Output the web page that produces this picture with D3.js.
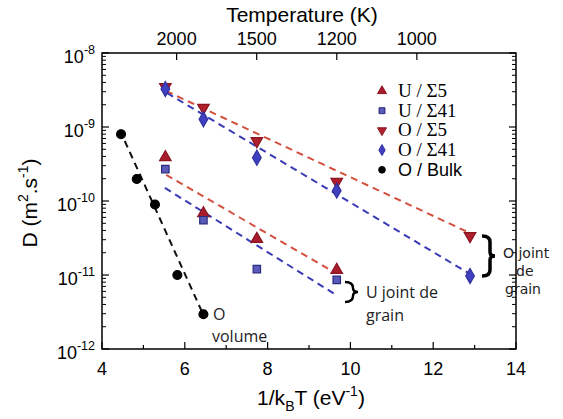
<!DOCTYPE html>
<html><head><meta charset="utf-8">
<script src="https://cdn.jsdelivr.net/npm/d3@7"></script>
<style>body{margin:0;background:#fff}svg{display:block}</style>
</head><body>
<script>
// ---- data ----
const invT = [5.53, 6.45, 7.74, 9.67, 12.89];          // 1/kBT (eV^-1)
const U_S5 = [3.9e-10, 6.8e-11, 3.06e-11, 1.17e-11];
const U_S41 = [2.7e-10, 5.5e-11, 1.2e-11, 8.6e-12];
const O_S5 = [3.47e-9, 1.82e-9, 6.47e-10, 1.82e-10, 3.37e-11];
const O_S41 = [3.26e-9, 1.27e-9, 3.85e-10, 1.38e-10, 9.7e-12];
const bulkX = [4.46, 4.84, 5.28, 5.82, 6.45];
const bulkD = [8.0e-10, 1.98e-10, 8.97e-11, 1.0e-11, 2.95e-12];
// fitted dashed lines: [x, D] endpoints
const fitO_S5 = [[5.55, 3.06e-9], [12.88, 3.7e-11]];
const fitO_S41 = [[5.57, 2.88e-9], [12.93, 1.0e-11]];
const fitU_S5 = [[5.55, 2.25e-10], [9.65, 1.06e-11]];
const fitU_S41 = [[5.52, 1.5e-10], [9.65, 5.4e-12]];
const fitBulk = [[4.43, 9.1e-10], [6.46, 2.8e-12]];
const xTicks = [4, 6, 8, 10, 12, 14];
const xMinor = [5, 7, 9, 11, 13];
const yExps = [-8, -9, -10, -11, -12];
const tempTicks = [2000, 1500, 1200, 1000];
const legendLabels = ["U / Σ5", "U / Σ41", "O / Σ5", "O / Σ41", "O / Bulk"];

const W = 563, H = 419;
const L = 102, R = 516, T = 53, B = 349;
const kB = 8.617e-5;

const svg = d3.select("body").append("svg").attr("width", W).attr("height", H);
const x = d3.scaleLinear().domain([4, 14]).range([L, R]);
const y = d3.scaleLog().domain([1e-12, 1e-8]).range([B, T]);

const REDL = "#d4503e", BLUEL = "#3a3ab4", BLK = "#111";
const sans = "Liberation Sans, Arial, sans-serif";
const serif = "Liberation Serif, Times New Roman, serif";

// frame
svg.append("rect").attr("x", L).attr("y", T).attr("width", R - L).attr("height", B - T)
  .attr("fill", "none").attr("stroke", "#000").attr("stroke-width", 1.5);

// x ticks bottom
const gx = svg.append("g");
xTicks.forEach(v => {
  gx.append("line").attr("x1", x(v)).attr("x2", x(v)).attr("y1", B).attr("y2", B - 7).attr("stroke", "#000").attr("stroke-width", 1.2);
  gx.append("text").attr("x", x(v)).attr("y", B + 26).attr("text-anchor", "middle")
    .attr("font-family", sans).attr("font-size", 18).text(v);
});
xMinor.forEach(v => {
  gx.append("line").attr("x1", x(v)).attr("x2", x(v)).attr("y1", B).attr("y2", B - 4).attr("stroke", "#000").attr("stroke-width", 1.2);
});
// top temperature axis
tempTicks.forEach(t => {
  const xv = x(1 / (kB * t));
  gx.append("line").attr("x1", xv).attr("x2", xv).attr("y1", T).attr("y2", T + 7).attr("stroke", "#000").attr("stroke-width", 1.2);
  gx.append("text").attr("x", xv).attr("y", T - 8).attr("text-anchor", "middle")
    .attr("font-family", sans).attr("font-size", 18).text(t);
});
svg.append("text").attr("x", 302).attr("y", 22).attr("text-anchor", "middle")
  .attr("font-family", sans).attr("font-size", 21).text("Temperature (K)");

// y ticks (left & right)
const gy = svg.append("g");
yExps.forEach(e => {
  const yv = y(Math.pow(10, e));
  gy.append("line").attr("x1", L).attr("x2", L + 7).attr("y1", yv).attr("y2", yv).attr("stroke", "#000").attr("stroke-width", 1.2);
  gy.append("line").attr("x1", R).attr("x2", R - 7).attr("y1", yv).attr("y2", yv).attr("stroke", "#000").attr("stroke-width", 1.2);
  const t = gy.append("text").attr("x", L - 7).attr("y", yv + 10).attr("text-anchor", "end")
    .attr("font-family", sans).attr("font-size", 18);
  t.append("tspan").text("10");
  t.append("tspan").attr("dy", -9).attr("font-size", 12.5).text(e);
  if (e > -12) {
    for (let m = 2; m <= 9; m++) {
      const ym = y(m * Math.pow(10, e - 1));
      gy.append("line").attr("x1", L).attr("x2", L + 4).attr("y1", ym).attr("y2", ym).attr("stroke", "#000").attr("stroke-width", 1);
      gy.append("line").attr("x1", R).attr("x2", R - 4).attr("y1", ym).attr("y2", ym).attr("stroke", "#000").attr("stroke-width", 1);
    }
  }
});

// axis titles
const yl = svg.append("text").attr("transform", "translate(37,203) rotate(-90)").attr("text-anchor", "middle")
  .attr("font-family", sans).attr("font-size", 21);
yl.append("tspan").text("D (m");
yl.append("tspan").attr("dy", -9).attr("font-size", 14).text("2");
yl.append("tspan").attr("dy", 9).text(".s");
yl.append("tspan").attr("dy", -9).attr("font-size", 14).text("-1");
yl.append("tspan").attr("dy", 9).text(")");

const xl = svg.append("text").attr("x", 311).attr("y", 405).attr("text-anchor", "middle")
  .attr("font-family", sans).attr("font-size", 21);
xl.append("tspan").text("1/k");
xl.append("tspan").attr("dy", 6).attr("font-size", 14).text("B");
xl.append("tspan").attr("dy", -6).text("T (eV");
xl.append("tspan").attr("dy", -9).attr("font-size", 14).text("-1");
xl.append("tspan").attr("dy", 9).text(")");

// dashed fit lines
const line = d3.line().x(d => x(d[0])).y(d => y(d[1]));
[[fitO_S5, REDL], [fitO_S41, BLUEL], [fitU_S5, REDL], [fitU_S41, BLUEL], [fitBulk, BLK]].forEach(([d, c]) => {
  svg.append("path").attr("d", line(d)).attr("fill", "none").attr("stroke", c)
    .attr("stroke-width", 2).attr("stroke-dasharray", "7,5");
});

// markers
const symType = {triUp: d3.symbolTriangle, triDown: d3.symbolTriangle, square: d3.symbolSquare, diamond: d3.symbolDiamond, circle: d3.symbolCircle};
const symSize = {triUp: 58, triDown: 58, square: 55, diamond: 65, circle: 62};
function drawPts(xs, ys, kind, fill, stroke, rot) {
  svg.append("g").selectAll("path").data(ys).join("path")
    .attr("d", d3.symbol().type(symType[kind]).size(symSize[kind])())
    .attr("transform", (d, i) => `translate(${x(xs[i])},${y(d)})${rot ? " rotate(180)" : ""}`)
    .attr("fill", fill).attr("stroke", stroke).attr("stroke-width", 1.2);
}
drawPts(invT, O_S5, "triDown", "#b0202c", "#8a1420", true);
drawPts(invT, O_S41, "diamond", "#4040c0", "#3030a0", false);
drawPts(invT, U_S5, "triUp", "#a81c2e", "#8a1420", false);
drawPts(invT, U_S41, "square", "#5a5ab8", "#2a2a80", false);
drawPts(bulkX, bulkD, "circle", "#000", "#000", false);

// legend
const legKinds = [["triUp", "#a81c2e", "#8a1420", false], ["square", "#5a5ab8", "#2a2a80", false],
  ["triDown", "#b0202c", "#8a1420", true], ["diamond", "#4040c0", "#3030a0", false], ["circle", "#000", "#000", false]];
legendLabels.forEach((lab, i) => {
  const ly = 91 + i * 19.7;
  const k = legKinds[i];
  svg.append("path").attr("d", d3.symbol().type(symType[k[0]]).size(35)())
    .attr("transform", `translate(382,${ly})${k[3] ? " rotate(180)" : ""}`)
    .attr("fill", k[1]).attr("stroke", k[2]).attr("stroke-width", 1);
  svg.append("text").attr("x", 398).attr("y", ly + 6)
    .attr("font-family", i < 4 ? serif : sans).attr("font-size", i < 4 ? 19 : 18).text(lab);
});

// annotations
function brace(xp, y0, y1) {
  const m = (y0 + y1) / 2, w = 8;
  return `M${xp},${y0} Q${xp + w},${y0} ${xp + w},${y0 + 6} L${xp + w},${m - 4} Q${xp + w},${m} ${xp + w + 5},${m} Q${xp + w},${m} ${xp + w},${m + 4} L${xp + w},${y1 - 6} Q${xp + w},${y1} ${xp},${y1}`;
}
svg.append("path").attr("d", brace(345, 282, 302)).attr("fill", "none").attr("stroke", "#000").attr("stroke-width", 2.5);
svg.append("path").attr("d", brace(482, 236, 276)).attr("fill", "none").attr("stroke", "#000").attr("stroke-width", 3.5);
const ann = "Open Sans, DejaVu Sans, sans-serif";
const annR = "DejaVu Sans, sans-serif";
[["U joint de", 366, 298, 16, ann], ["grain", 366, 321, 16, ann],
 ["O joint", 503, 258, 14, annR], ["de", 516, 276, 14, annR], ["grain", 505, 294, 14, annR],
 ["O", 213, 320, 16, ann], ["volume", 212, 342, 16, ann]].forEach(([t, xx, yy, fs, ff]) => {
  svg.append("text").attr("x", xx).attr("y", yy).attr("font-family", ff).attr("font-size", fs).attr("fill", "#222").text(t);
});
</script>
</body></html>
